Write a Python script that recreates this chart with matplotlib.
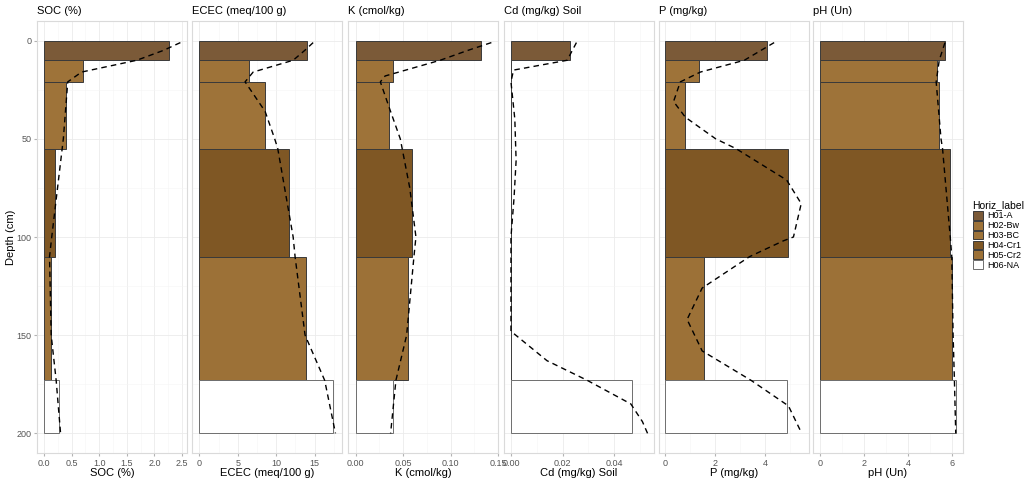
import matplotlib.pyplot as plt
from matplotlib.patches import Patch
from matplotlib.ticker import MultipleLocator

plt.rcParams["font.family"] = ["Liberation Sans", "DejaVu Sans"]

# horizons
horizons = ["H01-A", "H02-Bw", "H03-BC", "H04-Cr1", "H05-Cr2", "H06-NA"]
tops = [0, 10, 21, 55, 110, 173]
bottoms = [10, 21, 55, 110, 173, 200]
colors = ["#7B5A38", "#9E7339", "#9E7339", "#7F5724", "#9C7137", "#FFFFFF"]

# horizon values per property
soc = [2.26, 0.70, 0.39, 0.20, 0.12, 0.28]
ecec = [14.0, 6.5, 8.6, 11.7, 13.9, 17.4]
k = [0.132, 0.039, 0.035, 0.059, 0.055, 0.039]
cd = [0.023, 0, 0, 0, 0, 0.047]
p = [4.05, 1.36, 0.78, 4.89, 1.54, 4.86]
ph = [5.67, 5.31, 5.39, 5.90, 6.00, 6.18]

# dashed smooth profiles (depth, value)
soc_d = [1, 5, 10, 16, 21, 50, 100, 110, 150, 173, 200]
soc_v = [2.47, 2.16, 1.68, 0.68, 0.43, 0.35, 0.14, 0.10, 0.13, 0.22, 0.30]
ecec_d = [1, 5, 10, 16, 21, 36, 50, 55, 100, 110, 150, 173, 200]
ecec_v = [14.8, 13.7, 12.2, 7.0, 5.95, 8.55, 9.8, 10.2, 12.2, 12.45, 13.75, 16.3, 17.7]
k_d = [1, 5, 10, 18, 21, 35, 50, 75, 100, 110, 150, 173, 200]
k_v = [0.143, 0.118, 0.089, 0.031, 0.026, 0.036, 0.047, 0.057, 0.0635, 0.0614,
       0.0537, 0.0424, 0.0368]
cd_d = [1, 10, 15, 21, 40, 61, 80, 100, 148, 163, 173, 185, 194, 200]
cd_v = [0.0254, 0.0218, 0.001, 0.0, 0.0015, 0.002, 0.0012, 0.0, 0.0, 0.014,
        0.0296, 0.0465, 0.051, 0.053]
p_d = [1, 10, 16, 21, 31, 39, 50, 55, 71, 83, 100, 102, 110, 126, 142, 158,
       173, 186, 200]
p_v = [4.35, 3.16, 1.41, 0.61, 0.34, 0.81, 2.02, 2.83, 4.85, 5.43, 5.12, 4.71,
       3.37, 1.48, 0.88, 1.48, 3.43, 4.92, 5.45]
ph_d = [1, 10, 21, 50, 55, 100, 110, 150, 173, 200]
ph_v = [5.68, 5.42, 5.28, 5.5, 5.57, 5.92, 5.99, 6.05, 6.11, 6.17]

panels = [
    ("SOC (%)", "SOC (%)", soc, soc_d, soc_v, (-0.127, 2.59), 0.5, ["0.0", "0.5", "1.0", "1.5", "2.0", "2.5"]),
    ("ECEC (meq/100 g)", "ECEC (meq/100 g)", ecec, ecec_d, ecec_v, (-0.95, 18.55), 5, ["0", "5", "10", "15"]),
    ("K (cmol/kg)", "K (cmol/kg)", k, k_d, k_v, (-0.0081, 0.1498), 0.05, ["0.00", "0.05", "0.10", "0.15"]),
    ("Cd (mg/kg) Soil", "Cd (mg/kg) Soil", cd, cd_d, cd_v, (-0.0027, 0.0555), 0.02, ["0.00", "0.02", "0.04"]),
    ("P (mg/kg)", "P (mg/kg)", p, p_d, p_v, (-0.24, 5.74), 2, ["0", "2", "4"]),
    ("pH (Un)", "pH (Un)", ph, ph_d, ph_v, (-0.32, 6.5), 2, ["0", "2", "4", "6"]),
]

W, H = 1029, 482
fig = plt.figure(figsize=(W / 100, H / 100), dpi=100)
lefts = [37, 192, 348, 504, 659, 813]
pw = 150
ptop, pbot = 21, 453

for i, (title, xlabel, vals, cd_, cv_, xlim, step, labels) in enumerate(panels):
    ax = fig.add_axes([lefts[i] / W, 1 - pbot / H, pw / W, (pbot - ptop) / H])
    for j in range(len(horizons)):
        ec = "#6E6E6E" if colors[j] == "#FFFFFF" else "#3A3A3A"
        ax.barh(tops[j], vals[j], height=bottoms[j] - tops[j], left=0,
                align="edge", color=colors[j], edgecolor=ec, linewidth=0.7, zorder=2)
    ax.plot(cv_, cd_, color="black", linestyle=(0, (4, 3)), linewidth=1.0, zorder=3)
    ax.set_xlim(*xlim)
    ax.set_ylim(210, -10)
    ticks = [n * step for n in range(len(labels))]
    ax.set_xticks(ticks)
    ax.set_xticklabels(labels)
    ax.xaxis.set_minor_locator(MultipleLocator(step / 2))
    ax.set_yticks([0, 50, 100, 150, 200])
    ax.yaxis.set_minor_locator(MultipleLocator(25))
    ax.grid(which="major", color="#EBEBEB", linewidth=0.6, zorder=0)
    ax.grid(which="minor", color="#F5F5F5", linewidth=0.4, zorder=0)
    ax.set_axisbelow(True)
    for s in ax.spines.values():
        s.set_color("#DADADA")
        s.set_linewidth(0.8)
    ax.tick_params(which="major", length=2.5, color="#B3B3B3", labelsize=6.5,
                   labelcolor="#555555", pad=1.5)
    ax.tick_params(which="minor", length=0)
    ax.set_xlabel(xlabel, fontsize=8, labelpad=0)
    if i == 0:
        ax.set_ylabel("Depth (cm)", fontsize=8)
        ax.yaxis.set_label_coords(-0.14, 0.5)
    else:
        ax.tick_params(axis="y", which="both", left=False, labelleft=False)
    ax.text(0, 1.022, title, transform=ax.transAxes, ha="left", va="center",
            fontsize=8)

handles = [Patch(facecolor=c, edgecolor=("#6E6E6E" if c == "#FFFFFF" else "#3A3A3A"),
                 linewidth=0.7) for c in colors]
leg = fig.legend(handles, horizons, loc="upper left",
                 bbox_to_anchor=(969 / W, 1 - 197 / H), frameon=False,
                 title="Horiz_label", fontsize=6.5, title_fontsize=7.5,
                 handlelength=1.2, handleheight=1.1, handletextpad=0.4,
                 labelspacing=0.05, borderaxespad=0)
leg._legend_box.align = "left"

fig.savefig("out.png", dpi=100)
